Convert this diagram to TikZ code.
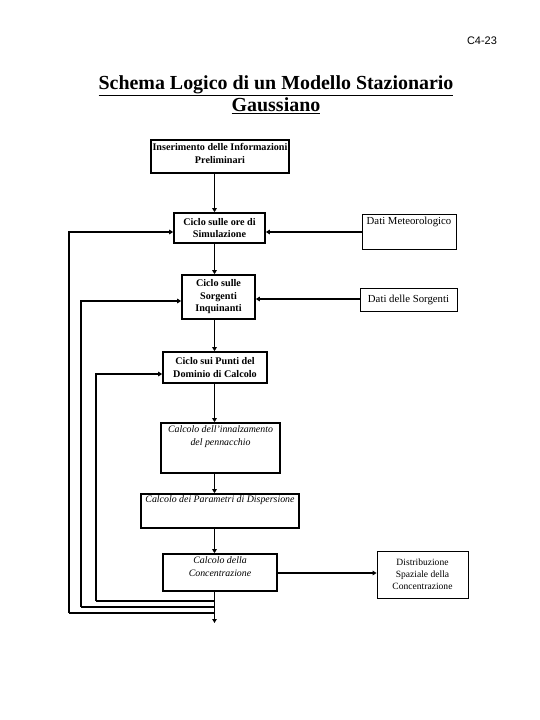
\documentclass[tikz,border=0pt]{standalone}
\usepackage{fontspec}
\setmainfont{Liberation Serif}
\setsansfont{Liberation Sans}
\usetikzlibrary{arrows.meta,calc}
\begin{document}
\begin{tikzpicture}[x=1bp,y=-1bp,
  mainbox/.style={draw,line width=1.6bp,inner sep=0pt},
  sidebox/.style={draw,line width=0.8bp,inner sep=0pt},
  btxt/.style={font=\fontsize{10.2}{12.5}\selectfont\bfseries,align=center,inner sep=0pt},
  itxt/.style={font=\fontsize{9.9}{13.5}\selectfont\itshape,align=center,inner sep=0pt},
  rtxt/.style={font=\fontsize{9.6}{12}\selectfont,align=center,inner sep=0pt},
  dtxt/.style={font=\fontsize{10.8}{12}\selectfont,align=center,inner sep=0pt},
  conn/.style={line width=1.6bp},
  arr/.style={line width=1.6bp,-{Triangle[length=4bp,width=4.5bp]}}]
\useasboundingbox (0,0) rectangle (540,720);
% header
\node[font=\sffamily\fontsize{11}{13}\selectfont,anchor=center] (pg) at (482,41) {C4-23};
\node[font=\fontsize{20}{22}\selectfont\bfseries,align=center] (title) at (276,95)
  {\underline{Schema Logico di un Modello Stazionario}\\[0pt]\underline{Gaussiano}};
% boxes
\node[mainbox,minimum width=138bp,minimum height=33bp] (b1) at (220,156.5) {};
\node[btxt,anchor=north] (t1) at ($(b1.north)+(0,4)$) {Inserimento delle Informazioni\\Preliminari};
\node[mainbox,minimum width=91bp,minimum height=30bp] (b2) at (219.5,228) {};
\node[btxt] (t2) at (b2) {Ciclo sulle ore di\\Simulazione};
\node[mainbox,minimum width=73bp,minimum height=44bp] (b3) at (218.5,297) {};
\node[btxt] (t3) at (b3) {Ciclo sulle\\Sorgenti\\Inquinanti};
\node[mainbox,minimum width=104bp,minimum height=31bp] (b4) at (215,367.5) {};
\node[btxt] (t4) at (b4) {Ciclo sui Punti del\\Dominio di Calcolo};
\node[mainbox,minimum width=119bp,minimum height=50bp] (b5) at (220.5,448) {};
\node[itxt,anchor=north] (t5) at ($(b5.north)+(0,3)$) {Calcolo dell'innalzamento\\del pennacchio};
\node[mainbox,minimum width=158bp,minimum height=34bp] (b6) at (220,511) {};
\node[itxt,anchor=north] (t6) at ($(b6.north)+(0,2.5)$) {Calcolo dei Parametri di Dispersione};
\node[mainbox,minimum width=114bp,minimum height=37bp] (b7) at (220,572.5) {};
\node[itxt,anchor=north] (t7) at ($(b7.north)+(0,3)$) {Calcolo della\\Concentrazione};
% side boxes
\node[sidebox,minimum width=94bp,minimum height=35bp] (m) at (409,231.5) {};
\node[dtxt,anchor=north] (tm) at ($(m.north)+(0,3)$) {Dati Meteorologico};
\node[sidebox,minimum width=97bp,minimum height=23bp] (s) at (408.5,299.5) {};
\node[dtxt] (ts) at (s) {Dati delle Sorgenti};
\node[sidebox,minimum width=91bp,minimum height=47bp] (d) at (422.5,574.5) {};
\node[rtxt] (td) at (d) {Distribuzione\\Spaziale della\\Concentrazione};
% spine coordinates
\coordinate (sp) at (214.5,0);
\coordinate (end) at (214.5,623);
\coordinate (j1) at (214.5,601);
\coordinate (j2) at (214.5,607);
\coordinate (j3) at (214.5,613);
\coordinate (l1) at (96,601);
\coordinate (l2) at (81,607);
\coordinate (l3) at (69,613);
% vertical flow
\draw[arr] (b1.south -| sp) -- (b2.north -| sp);
\draw[arr] (b2.south -| sp) -- (b3.north -| sp);
\draw[arr] (b3.south -| sp) -- (b4.north -| sp);
\draw[arr] (b4.south -| sp) -- (b5.north -| sp);
\draw[arr] (b5.south -| sp) -- (b6.north -| sp);
\draw[arr] (b6.south -| sp) -- (b7.north -| sp);
\draw[arr] (b7.south -| sp) -- (end);
% loops
\draw[conn] (j1) -- (l1);
\draw[arr] (l1) -- (l1 |- 0,374) -- (b4.west |- 0,374);
\draw[conn] (j2) -- (l2);
\draw[arr] (l2) -- (l2 |- 0,301) -- (b3.west |- 0,301);
\draw[conn] (j3) -- (l3);
\draw[arr] (l3) -- (l3 |- 0,232) -- (b2.west |- 0,232);
% side inputs / output
\draw[arr] (m.west |- 0,232) -- (b2.east |- 0,232);
\draw[arr] (s.west |- 0,299) -- (b3.east |- 0,299);
\draw[arr] (b7.east |- 0,573) -- (d.west |- 0,573);
\end{tikzpicture}
\end{document}
